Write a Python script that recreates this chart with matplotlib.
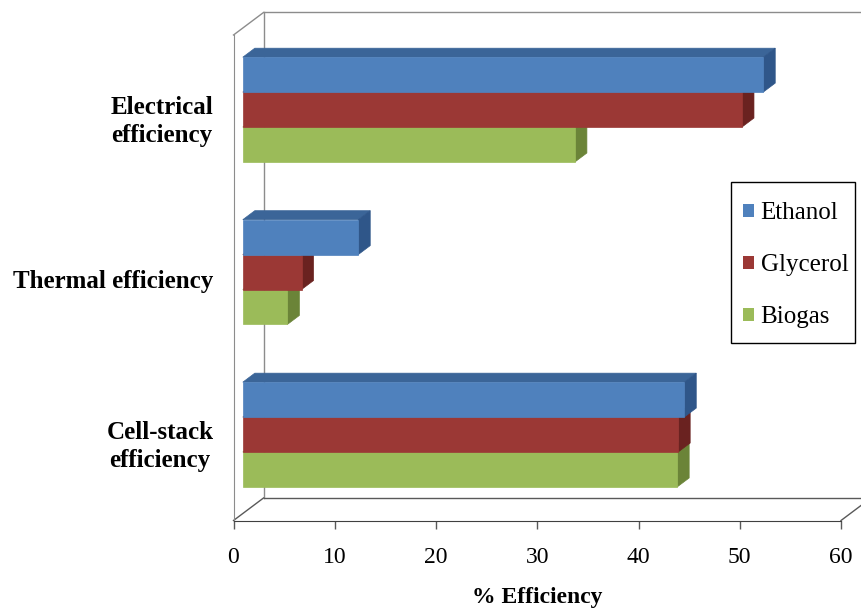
import matplotlib.pyplot as plt
from matplotlib.patches import Polygon, Patch, Rectangle

# categories from bottom to top
categories = ['Cell-stack\nefficiency', 'Thermal efficiency', 'Electrical\nefficiency']
series = ['Ethanol', 'Glycerol', 'Biogas']
ethanol = [43.6, 11.4, 51.4]
glycerol = [43.0, 5.8, 49.3]
biogas = [42.9, 4.4, 32.8]
x_ticks = [0, 10, 20, 30, 40, 50, 60]

front_col = ['#4F81BD', '#9B3835', '#9BBB59']
top_col = ['#3B6598', '#7A2A28', '#7E9A45']
side_col = ['#2F5689', '#6A2220', '#6B8438']

plt.rcParams['font.family'] = ['Liberation Serif', 'DejaVu Serif']

fig = plt.figure(figsize=(8.61, 6.10), dpi=100)
ax = fig.add_axes([233.5 / 861, 89.5 / 610, 607.5 / 861, 485.5 / 610])
ax.set_xlim(0, 60)
ax.set_ylim(-0.486, 2.502)

# oblique depth offset (full wall depth) in data units
DX, DY = 2.963, 0.1385
d0, d1 = 0.31, 0.71
bh = 0.215


def bar3d(v, yc, k):
    yb = yc - bh / 2
    xa, ya = d0 * DX, yb + d0 * DY
    xb, yb2 = d1 * DX, yb + d1 * DY
    ax.add_patch(Polygon([(xa, ya + bh), (xa + v, ya + bh), (xb + v, yb2 + bh), (xb, yb2 + bh)],
                         closed=True, fc=top_col[k], ec=top_col[k], lw=0.5, zorder=3))
    ax.add_patch(Polygon([(xa + v, ya), (xb + v, yb2), (xb + v, yb2 + bh), (xa + v, ya + bh)],
                         closed=True, fc=side_col[k], ec=side_col[k], lw=0.5, zorder=3))
    ax.add_patch(Polygon([(xa, ya), (xa + v, ya), (xa + v, ya + bh), (xa, ya + bh)],
                         closed=True, fc=front_col[k], ec=front_col[k], lw=0.5, zorder=3))


values = [ethanol, glycerol, biogas]
offsets = [bh, 0, -bh]
for i in range(len(categories)):
    for k in [2, 1, 0]:
        bar3d(values[k][i], i + offsets[k], k)

# walls and floor of the 3d box
ylo, yhi = ax.get_ylim()
wall = dict(color='#8c8c8c', lw=1.0, clip_on=False, zorder=1)
floor = dict(color='#595959', lw=1.0, clip_on=False, zorder=1)
ax.plot([0, DX], [yhi, yhi + DY], **wall)
ax.plot([DX, DX], [ylo + DY, yhi + DY], **wall)
ax.plot([DX, 60 + DX], [yhi + DY, yhi + DY], **wall)
ax.plot([0, DX], [ylo, ylo + DY], **floor)
ax.plot([DX, 60 + DX], [ylo + DY, ylo + DY], **floor)
ax.plot([60, 60 + DX], [ylo, ylo + DY], **floor)

for s in ['top', 'right']:
    ax.spines[s].set_visible(False)
ax.spines['left'].set_color('#8c8c8c')
ax.spines['bottom'].set_color('#404040')

ax.set_xticks(x_ticks)
ax.tick_params(axis='x', length=6, width=1, color='#595959', pad=13, labelsize=17)
ax.set_yticks(range(len(categories)))
ax.set_yticklabels(categories, fontsize=18, fontweight='bold')
ax.tick_params(axis='y', length=0, pad=14.5)
for t in ax.get_yticklabels():
    t.set_multialignment('center')
    t.set_linespacing(1.3)

ax.set_xlabel('% Efficiency', fontsize=17, fontweight='bold', labelpad=14)

# legend box drawn separately so its padding can follow the original
fig.patches.append(Rectangle((731 / 861, 1 - 343 / 610), 124 / 861, 161 / 610,
                             transform=fig.transFigure, fill=False, ec='black', lw=1.0))
handles = [Patch(fc=front_col[k], ec='none') for k in range(3)]
fig.legend(handles, series, loc='upper left', bbox_to_anchor=(743 / 861, 1 - 202 / 610),
           fontsize=18, frameon=False,
           handlelength=0.42, handleheight=0.42, handletextpad=0.28,
           labelspacing=1.2, borderpad=0, borderaxespad=0)

fig.savefig('out.png', dpi=100)
